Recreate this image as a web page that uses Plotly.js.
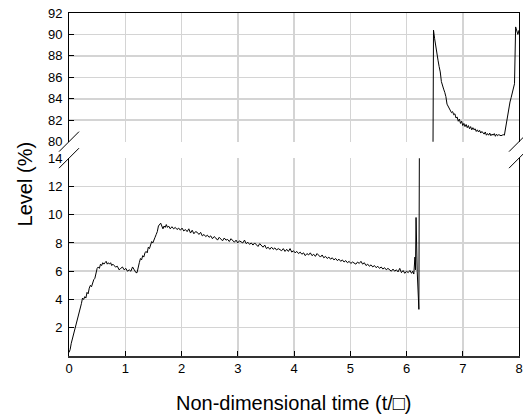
<!DOCTYPE html>
<html><head><meta charset="utf-8">
<script src="https://cdn.plot.ly/plotly-3.0.1.min.js"></script>
<style>html,body{margin:0;padding:0;background:#fff}#chart{width:523px;height:417px}</style>
</head><body><div id="chart"></div>
<script>
// Lower part of the record (level below the axis break)
const lowTime = [
 0,0.02,0.04,0.06,0.08,0.10,0.12,0.14,0.16,0.18,0.20,0.22,0.24,0.26,0.28,0.30,0.32,0.34,0.36,0.38,0.40,
 0.42,0.44,0.46,0.48,0.50,0.52,0.54,0.56,0.58,0.60,0.62,0.64,0.66,0.68,0.70,0.72,0.74,0.76,0.78,0.80,
 0.83,0.86,0.89,0.92,0.95,0.98,1.01,1.04,1.07,1.10,1.13,1.16,1.19,
 1.21,1.23,1.25,1.27,1.29,1.31,1.33,1.35,1.37,1.39,1.41,1.43,1.45,1.47,1.49,1.51,1.53,1.55,1.57,1.59,
 1.61,1.63,1.65,1.67,1.69,1.71,1.73,1.75,1.77,
 1.80,1.83,1.86,1.89,1.92,1.95,1.98,2.01,2.04,2.07,
 2.10,2.13,2.16,2.19,2.22,2.25,2.28,2.31,2.34,2.37,
 2.40,2.43,2.46,2.49,2.52,2.55,2.58,2.61,2.64,2.67,
 2.70,2.73,2.76,2.79,2.82,2.85,2.88,2.91,2.94,2.97,
 3.00,3.03,3.06,3.09,3.12,3.15,3.18,3.21,3.24,3.27,
 3.30,3.33,3.36,3.39,3.42,3.45,3.48,3.51,3.54,3.57,
 3.60,3.63,3.66,3.69,3.72,3.75,3.78,3.81,3.84,3.87,
 3.90,3.93,3.96,3.99,4.02,4.05,4.08,4.11,4.14,4.17,
 4.20,4.23,4.26,4.29,4.32,4.35,4.38,4.41,4.44,4.47,
 4.50,4.53,4.56,4.59,4.62,4.65,4.68,4.71,4.74,4.77,
 4.80,4.83,4.86,4.89,4.92,4.95,4.98,5.01,5.04,5.07,
 5.10,5.13,5.16,5.19,5.22,5.25,5.28,5.31,5.34,5.37,
 5.40,5.43,5.46,5.49,5.52,5.55,5.58,5.61,5.64,5.67,
 5.70,5.73,5.76,5.79,5.82,5.85,5.88,5.91,5.94,5.97,
 6.00,6.03,6.06,6.09,
 6.11,6.13,6.15,6.16,6.17,6.19,6.22,6.23
];
const lowLevel = [
 0.25,0.45,0.9,1.2,1.5,1.8,2.1,2.5,2.7,2.9,3.3,3.7,4.1,4.0,4.2,4.1,4.5,4.4,4.8,5.0,4.9,
 5.2,5.4,5.5,5.9,6.2,6.3,6.2,6.5,6.4,6.6,6.5,6.6,6.7,6.5,6.6,6.5,6.6,6.4,6.5,6.4,
 6.3,6.35,6.1,6.2,6.3,6.1,6.2,6.0,6.1,6.0,6.3,6.1,5.9,
 5.9,6.4,6.6,6.9,6.8,7.1,7.0,7.3,7.4,7.3,7.7,7.6,7.9,8.1,8.0,8.3,8.4,8.6,8.8,9.2,
 9.3,9.4,9.2,9.0,9.2,9.1,9.3,9.1,9.2,
 9.0,9.15,9.0,9.1,8.95,9.05,8.9,9.05,8.85,8.95,
 8.8,9.0,8.7,8.9,8.65,8.8,8.75,8.6,8.75,8.5,
 8.6,8.45,8.55,8.4,8.5,8.3,8.45,8.35,8.2,8.4,
 8.3,8.15,8.35,8.2,8.25,8.1,8.3,8.15,8.05,8.2,
 8.0,8.15,8.1,8.0,8.2,7.95,8.05,7.9,8.0,7.85,
 8.0,7.9,7.75,7.95,7.8,7.7,7.85,7.6,7.7,7.55,
 7.7,7.55,7.65,7.5,7.6,7.55,7.45,7.6,7.4,7.55,
 7.4,7.6,7.35,7.45,7.3,7.4,7.25,7.35,7.2,7.3,
 7.1,7.25,7.15,7.3,7.1,7.2,7.05,7.25,7.1,7.0,
 7.15,6.95,7.05,6.9,7.0,6.85,6.95,6.8,6.9,6.75,
 6.85,6.7,6.8,6.65,6.75,6.6,6.7,6.55,6.65,6.6,
 6.5,6.65,6.55,6.7,6.5,6.6,6.4,6.5,6.35,6.45,
 6.3,6.4,6.25,6.35,6.2,6.3,6.15,6.25,6.1,6.2,
 6.1,6.0,6.15,6.0,6.1,5.95,6.2,5.9,6.05,5.85,
 6.0,5.9,6.05,5.85,
 6.0,5.8,7.0,6.1,9.8,6.0,3.3,16
];
// Upper part of the record (level above the axis break)
const highTime = [
 6.47,6.48,6.50,6.52,6.54,6.56,6.58,6.60,6.62,6.64,6.66,6.68,6.70,6.72,6.74,6.76,6.78,6.80,6.82,6.84,
 6.86,6.88,6.90,6.92,6.94,6.96,6.98,7.00,7.02,7.04,7.06,7.08,7.10,7.12,7.14,7.16,7.18,7.20,7.22,7.24,
 7.26,7.28,7.30,7.32,7.34,7.36,7.38,7.40,7.42,7.44,7.46,7.48,7.50,7.52,7.54,7.56,7.58,7.60,7.62,7.64,
 7.66,7.68,7.70,7.72,7.74,7.76,7.78,7.80,7.82,7.84,7.86,7.88,7.90,7.92,7.94,7.96,7.98,8.00
];
const highLevel = [
 78,90.4,89.6,88.8,88.3,87.6,87.0,86.5,85.6,85.1,84.9,84.6,84.2,83.5,83.3,83.0,82.9,82.7,82.8,82.5,
 82.6,82.2,82.3,81.9,82.1,81.7,81.9,81.5,81.7,81.4,81.6,81.3,81.5,81.2,81.4,81.1,81.3,81.1,81.2,80.95,
 81.1,80.9,81.05,80.8,80.95,80.8,80.7,80.9,80.6,80.75,80.6,80.8,80.55,80.7,80.6,80.75,80.5,80.7,80.55,80.65,
 80.6,80.55,80.6,80.65,80.6,81.3,82.0,82.7,83.3,83.7,84.1,84.6,85.0,85.4,90.7,90.3,90.0,90.4
];
const xTickVals = [0,1,2,3,4,5,6,7,8];
const lowTickVals = [2,4,6,8,10,12,14];
const highTickVals = [80,82,84,86,88,90,92];
const xTitleText = 'Non-dimensional time (t/\u25A1)';
const yTitleText = 'Level (%)';

const FONT = 'Liberation Sans, Arial, sans-serif';
const lineStyle = {color: '#000', width: 1};

const traces = [
  {x: lowTime, y: lowLevel, xaxis: 'x', yaxis: 'y', mode: 'lines', line: lineStyle, hoverinfo: 'skip'},
  {x: highTime, y: highLevel, xaxis: 'x2', yaxis: 'y2', mode: 'lines', line: lineStyle, hoverinfo: 'skip'}
];

const gridColor = '#d4d4d4';
const axisCommon = {
  showgrid: true, gridcolor: gridColor, gridwidth: 1.5, zeroline: false,
  showline: true, linecolor: '#000', linewidth: 1,
  tickfont: {family: FONT, size: 13, color: '#000'},
  ticks: 'inside', ticklen: 5, tickcolor: '#000', tickwidth: 1
};

function slash(xa, ya) {
  return {type: 'line', xref: 'paper', yref: 'paper', xsizemode: 'pixel', ysizemode: 'pixel',
    xanchor: xa, yanchor: ya, x0: -10, x1: 10, y0: -10, y1: 10,
    line: {color: '#000', width: 1}, layer: 'above'};
}
const lowTop = 0.5768, highBottom = 0.625;

const layout = {
  width: 523, height: 417,
  margin: {l: 69, r: 4, t: 13, b: 61},
  paper_bgcolor: '#fff', plot_bgcolor: '#fff',
  showlegend: false,
  font: {family: FONT, color: '#000'},
  xaxis: Object.assign({}, axisCommon, {range: [0, 8], tickvals: xTickVals, anchor: 'y', linecolor: '#333', linewidth: 1.5}),
  yaxis: Object.assign({}, axisCommon, {range: [0, 14], tickvals: lowTickVals, domain: [0, lowTop], anchor: 'x', mirror: true, ticklabelstandoff: 3}),
  xaxis2: Object.assign({}, axisCommon, {range: [0, 8], tickvals: xTickVals, anchor: 'y2', side: 'top', matches: 'x', showticklabels: false, ticks: ''}),
  yaxis2: Object.assign({}, axisCommon, {range: [80, 92], tickvals: highTickVals, domain: [highBottom, 1], anchor: 'x2', mirror: true, ticklabelstandoff: 3}),
  shapes: [slash(0, highBottom), slash(0, lowTop), slash(1, highBottom), slash(1, lowTop)],
  annotations: [
    {text: yTitleText, xref: 'paper', yref: 'paper', x: -0.098, y: 0.5, xanchor: 'center', yanchor: 'middle',
     textangle: -90, showarrow: false, font: {family: FONT, size: 20, color: '#000'}},
    {text: xTitleText, xref: 'paper', yref: 'paper', x: 0.5, y: -0.138, xanchor: 'center', yanchor: 'middle',
     showarrow: false, font: {family: FONT, size: 20, color: '#000'}}
  ]
};

Plotly.newPlot('chart', traces, layout, {staticPlot: true, displayModeBar: false});
</script>
</body></html>
